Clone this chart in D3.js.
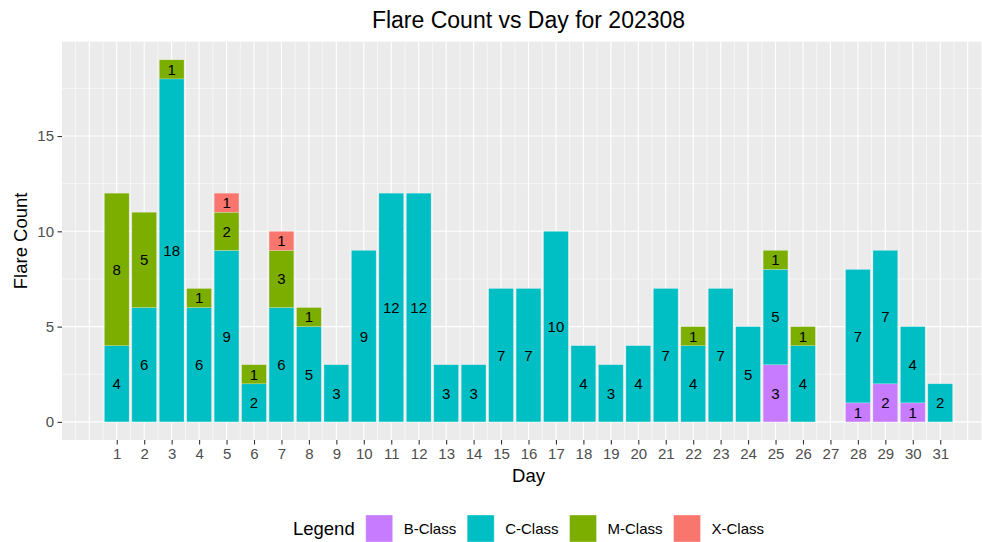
<!DOCTYPE html>
<html>
<head>
<meta charset="utf-8">
<script src="https://cdn.jsdelivr.net/npm/d3@7"></script>
<style>
  body { margin: 0; background: #fff; }
  svg { font-family: "Liberation Sans", Arial, Helvetica, sans-serif; display: block; }
</style>
</head>
<body>
<div id="chart"></div>
<script>
// flare counts per day, August 2023
const days = d3.range(1, 32)
const bClass = [0,0,0,0,0,0,0,0,0,0,0,0,0,0,0,0,0,0,0,0,0,0,0,0,3,0,0,1,2,1,0]
const cClass = [4,6,18,6,9,2,6,5,3,9,12,12,3,3,7,7,10,4,3,4,7,4,7,5,5,4,0,7,7,4,2]
const mClass = [8,5,1,1,2,1,3,1,0,0,0,0,0,0,0,0,0,0,0,0,0,1,0,0,1,1,0,0,0,0,0]
const xClass = [0,0,0,0,1,0,1,0,0,0,0,0,0,0,0,0,0,0,0,0,0,0,0,0,0,0,0,0,0,0,0]
const classes = ["B-Class", "C-Class", "M-Class", "X-Class"]
const colors = ["#C77CFF", "#00BFC4", "#7CAE00", "#F8766D"]

let width = 982, height = 542
let panel = { left: 62, right: 995, top: 41.7, bottom: 440 }

let svg = d3.select("#chart").append("svg")
    .attr("width", width)
    .attr("height", height)

let rows = days.map((d, i) => ({
    day: d,
    "B-Class": bClass[i],
    "C-Class": cClass[i],
    "M-Class": mClass[i],
    "X-Class": xClass[i]
}))
let series = d3.stack().keys(classes)(rows)
let maxTotal = d3.max(rows, r => classes.reduce((s, k) => s + r[k], 0))

// ggplot style expansion (5%)
let xLo = 0.55, xHi = 31.45
let xPad = (xHi - xLo) * 0.05
let x = d3.scaleLinear().domain([xLo - xPad, xHi + xPad]).range([panel.left, panel.right])
let y = d3.scaleLinear().domain([-maxTotal * 0.05, maxTotal * 1.05]).range([panel.bottom, panel.top])
let color = d3.scaleOrdinal().domain(classes).range(colors)

// panel background
svg.append("rect")
    .attr("x", panel.left).attr("y", panel.top)
    .attr("width", panel.right - panel.left)
    .attr("height", panel.bottom - panel.top)
    .attr("fill", "#EBEBEB")

let grid = svg.append("g")
// minor grid
d3.range(-0.5, 33, 1).forEach(v => {
    grid.append("line")
        .attr("x1", x(v)).attr("x2", x(v))
        .attr("y1", panel.top).attr("y2", panel.bottom)
        .attr("stroke", "#fff").attr("stroke-width", 0.55)
})
;[2.5, 7.5, 12.5, 17.5].forEach(v => {
    grid.append("line")
        .attr("x1", panel.left).attr("x2", panel.right)
        .attr("y1", y(v)).attr("y2", y(v))
        .attr("stroke", "#fff").attr("stroke-width", 0.55)
})
// major grid
d3.range(0, 33).forEach(v => {
    grid.append("line")
        .attr("x1", x(v)).attr("x2", x(v))
        .attr("y1", panel.top).attr("y2", panel.bottom)
        .attr("stroke", "#fff").attr("stroke-width", 1.1)
})
;[0, 5, 10, 15].forEach(v => {
    grid.append("line")
        .attr("x1", panel.left).attr("x2", panel.right)
        .attr("y1", y(v)).attr("y2", y(v))
        .attr("stroke", "#fff").attr("stroke-width", 1.1)
})

// bars
let bw = x(0.9) - x(0)
let layers = svg.append("g").selectAll("g")
    .data(series)
    .enter()
    .append("g")
    .attr("fill", d => color(d.key))
layers.selectAll("rect")
    .data(d => d.filter(s => s[1] > s[0]))
    .enter()
    .append("rect")
    .attr("x", d => x(d.data.day) - bw / 2)
    .attr("width", bw)
    .attr("y", d => y(d[1]))
    .attr("height", d => y(d[0]) - y(d[1]))
    .attr("stroke", "rgba(255,255,255,0.35)")
    .attr("stroke-width", 0.6)

// value labels, centred in each segment
let labels = svg.append("g")
series.forEach(s => {
    s.filter(d => d[1] > d[0]).forEach(d => {
        labels.append("text")
            .attr("x", x(d.data.day))
            .attr("y", y((d[0] + d[1]) / 2))
            .attr("dy", "0.36em")
            .attr("text-anchor", "middle")
            .attr("font-size", 15)
            .attr("fill", "#000")
            .text(d[1] - d[0])
    })
})

// axes
let xAxis = svg.append("g")
    .attr("transform", `translate(0,${panel.bottom})`)
    .call(d3.axisBottom(x).tickValues(days).tickSize(4.5).tickPadding(3.5).tickFormat(d3.format("d")))
let yAxis = svg.append("g")
    .attr("transform", `translate(${panel.left},0)`)
    .call(d3.axisLeft(y).tickValues([0, 5, 10, 15]).tickSize(4.5).tickPadding(3.5))
;[xAxis, yAxis].forEach(a => {
    a.select(".domain").remove()
    a.selectAll(".tick line").attr("stroke", "#333").attr("stroke-width", 1.1)
    a.selectAll(".tick text").attr("fill", "#4D4D4D").attr("font-size", 15)
        .attr("font-family", "Liberation Sans, Arial, sans-serif")
})

let cx = (panel.left + panel.right) / 2
// title
svg.append("text")
    .attr("x", cx).attr("y", 28)
    .attr("text-anchor", "middle")
    .attr("font-size", 23)
    .text("Flare Count vs Day for 202308")
// axis titles
svg.append("text")
    .attr("x", cx).attr("y", 482)
    .attr("text-anchor", "middle")
    .attr("font-size", 18.5)
    .text("Day")
svg.append("text")
    .attr("transform", `translate(27,${(panel.top + panel.bottom) / 2}) rotate(-90)`)
    .attr("text-anchor", "middle")
    .attr("font-size", 18.5)
    .text("Flare Count")

// legend at bottom
let legend = svg.append("g")
let lx = 0, gap = 11, key = 27, keyTop = 515, mid = keyTop + key / 2
let ttl = legend.append("text")
    .attr("x", lx).attr("y", mid).attr("dy", "0.36em")
    .attr("font-size", 18.5)
    .text("Legend")
lx += ttl.node().getComputedTextLength() + gap
classes.forEach((c, i) => {
    legend.append("rect")
        .attr("x", lx).attr("y", keyTop)
        .attr("width", key).attr("height", key)
        .attr("fill", color(c))
        .attr("stroke", "rgba(255,255,255,0.35)")
    lx += key + gap
    let t = legend.append("text")
        .attr("x", lx).attr("y", mid).attr("dy", "0.36em")
        .attr("font-size", 15)
        .text(c)
    lx += t.node().getComputedTextLength() + gap
})
lx -= gap
legend.attr("transform", `translate(${cx - lx / 2},0)`)
</script>
</body>
</html>
